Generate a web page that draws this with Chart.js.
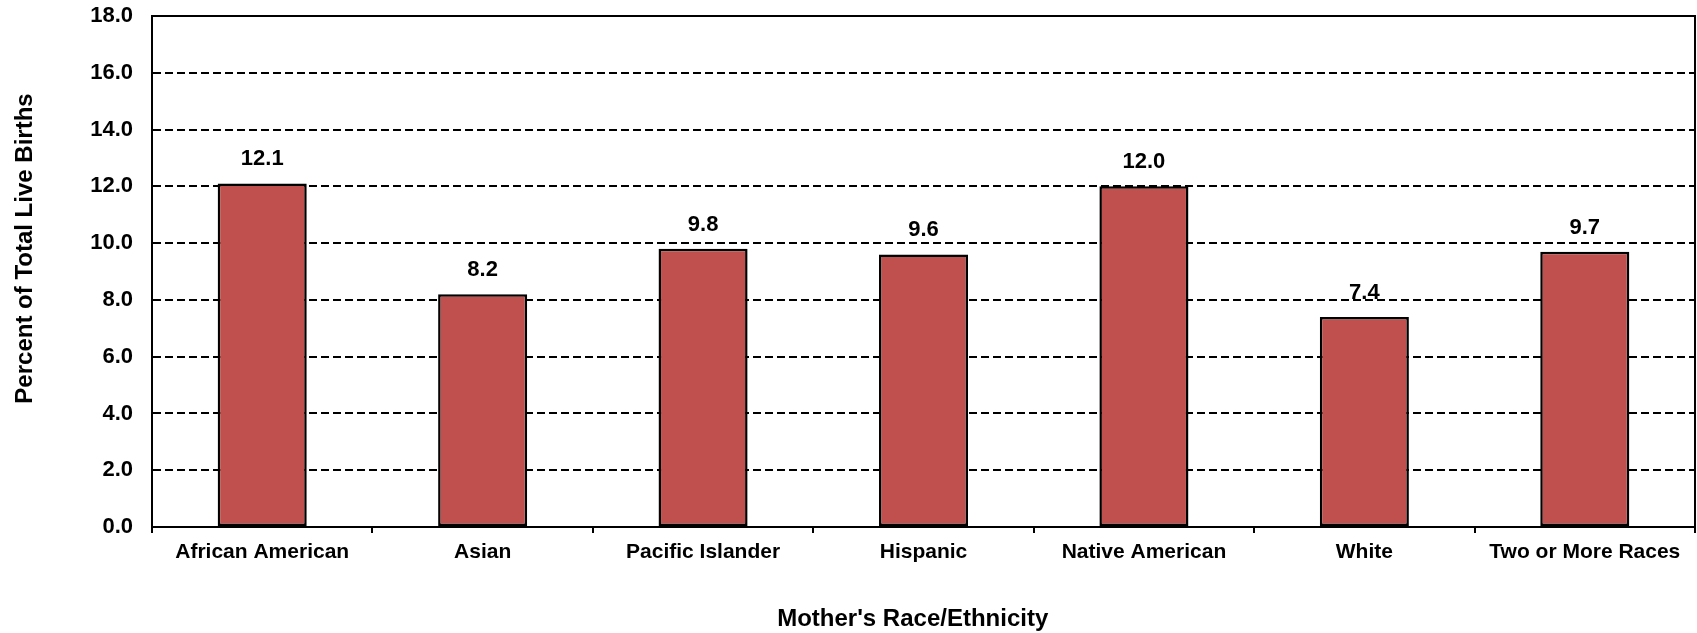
<!DOCTYPE html>
<html>
<head>
<meta charset="utf-8">
<script src="https://cdn.jsdelivr.net/npm/chart.js@4"></script>
<style>
  html, body { margin: 0; padding: 0; background: #fff; }
  #wrap { width: 1697px; height: 633px; }
</style>
</head>
<body>
<div id="wrap"><canvas id="myChart" width="1697" height="633"></canvas></div>
<script>
const categories = ['African American', 'Asian', 'Pacific Islander', 'Hispanic', 'Native American', 'White', 'Two or More Races'];
const percentValues = [12.1, 8.2, 9.8, 9.6, 12.0, 7.4, 9.7];
const yTicks = [0, 2, 4, 6, 8, 10, 12, 14, 16, 18];
const xTitle = "Mother's Race/Ethnicity";
const yTitle = 'Percent of Total Live Births';

const fontFamily = "'Liberation Sans', Arial, sans-serif";

// value labels above bars
const barLabels = {
  id: 'barLabels',
  afterDatasetsDraw(chart) {
    const ctx = chart.ctx;
    const meta = chart.getDatasetMeta(0);
    ctx.save();
    ctx.font = 'bold 22px ' + fontFamily;
    ctx.fillStyle = '#000';
    ctx.textAlign = 'center';
    ctx.textBaseline = 'alphabetic';
    meta.data.forEach((bar, i) => {
      ctx.fillText(percentValues[i].toFixed(1), bar.x, bar.y - 18);
    });
    ctx.restore();
  }
};

// solid frame round the plot area + axis titles
const plotFrame = {
  id: 'plotFrame',
  afterDraw(chart) {
    const a = chart.chartArea;
    const ctx = chart.ctx;
    ctx.save();
    ctx.strokeStyle = '#000';
    ctx.lineWidth = 2;
    ctx.beginPath();
    ctx.moveTo(a.left, a.top);
    ctx.lineTo(a.right, a.top);
    ctx.lineTo(a.right, a.bottom);
    ctx.stroke();

    ctx.fillStyle = '#000';
    ctx.font = 'bold 24px ' + fontFamily;
    ctx.textAlign = 'center';
    ctx.textBaseline = 'alphabetic';
    ctx.fillText(xTitle, a.left + (a.right - a.left) * 0.493, 626);

    ctx.translate(32, a.top + (a.bottom - a.top) * 0.455);
    ctx.rotate(-Math.PI / 2);
    ctx.fillText(yTitle, 0, 0);
    ctx.restore();
  }
};

const ctx = document.getElementById('myChart').getContext('2d');

const myChart = new Chart(ctx, {
  type: 'bar',
  data: {
    labels: categories,
    datasets: [{
      label: yTitle,
      data: percentValues,
      backgroundColor: '#C0504D',
      borderColor: '#000000',
      borderWidth: 2.5,
      borderSkipped: false,
      barPercentage: 0.404,
      categoryPercentage: 1.0
    }]
  },
  options: {
    responsive: false,
    animation: false,
    layout: {
      padding: { top: 16, right: 2, left: 0, bottom: 0 }
    },
    plugins: {
      legend: { display: false },
      tooltip: { enabled: false }
    },
    scales: {
      x: {
        grid: {
          display: true,
          drawOnChartArea: false,
          drawTicks: true,
          tickLength: 6,
          color: '#000',
          lineWidth: 2,
          offset: true
        },
        border: { display: true, color: '#000', width: 2 },
        ticks: {
          color: '#000',
          font: { family: fontFamily, size: 21, weight: 'bold' },
          padding: 7,
          maxRotation: 0,
          autoSkip: false
        },
        afterFit(scale) { scale.height = 106; }
      },
      y: {
        min: 0,
        max: 18,
        afterBuildTicks(scale) {
          scale.ticks = yTicks.map(v => ({ value: v }));
        },
        grid: {
          color: '#000',
          lineWidth: 2,
          drawTicks: false
        },
        border: { display: true, color: '#000', width: 2, dash: [8, 4] },
        ticks: {
          color: '#000',
          font: { family: fontFamily, size: 22, weight: 'bold' },
          padding: 19,
          callback: v => Number(v).toFixed(1)
        },
        afterFit(scale) {
          scale.width = 152;
          scale.paddingTop = 0;
          scale.paddingBottom = 0;
        }
      }
    }
  },
  plugins: [barLabels, plotFrame]
});
</script>
</body>
</html>
